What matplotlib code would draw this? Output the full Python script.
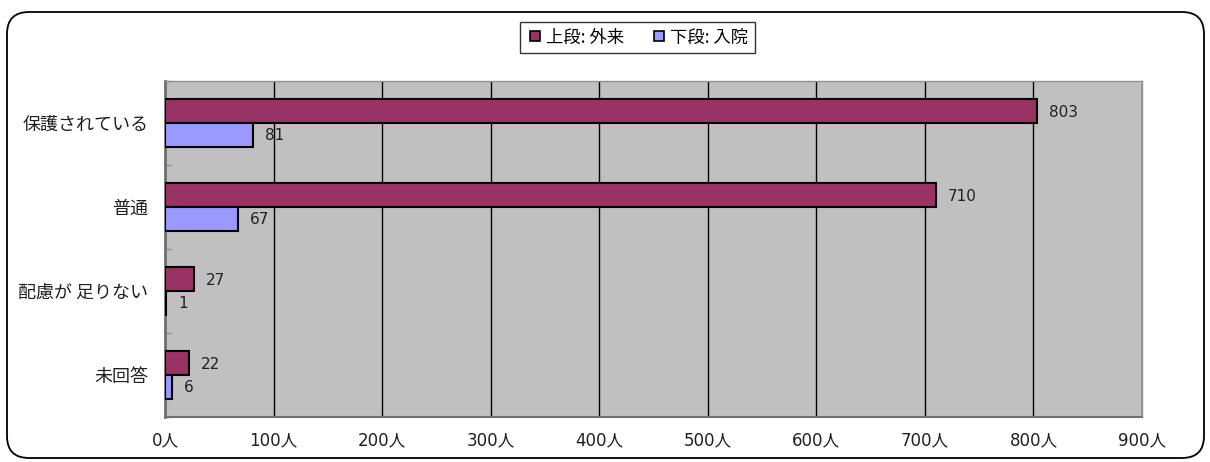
import matplotlib
matplotlib.use("Agg")
import matplotlib.pyplot as plt
from matplotlib.patches import FancyBboxPatch
from matplotlib.lines import Line2D
import numpy as np

CJK = ['Noto Sans CJK JP', 'DejaVu Sans']
NUM = ['DejaVu Sans', 'Noto Sans CJK JP']
plt.rcParams['font.family'] = CJK

# 回答カテゴリと人数
categories = ['保護されている', '普通', '配慮が 足りない', '未回答']
outpatient = [803, 710, 27, 22]   # 上段: 外来
inpatient = [81, 67, 1, 6]        # 下段: 入院
series_names = ['上段: 外来', '下段: 入院']
x_ticks = [0, 100, 200, 300, 400, 500, 600, 700, 800, 900]
x_tick_labels = [f'{v}人' for v in x_ticks]

W, H = 1210, 462
DPI = 100
fig = plt.figure(figsize=(W / DPI, H / DPI), dpi=DPI)

# 角丸の外枠 (インチ単位で配置)
frame = FancyBboxPatch((7 / DPI, 4 / DPI), 1197 / DPI, 446 / DPI,
                       boxstyle="round,pad=0,rounding_size=0.22",
                       transform=fig.dpi_scale_trans, facecolor='none',
                       edgecolor='black', linewidth=1.3, zorder=-1)
fig.patches.append(frame)

left, right, top, bottom = 165, 1142, 81, 417
ax = fig.add_axes([left / W, (H - bottom) / H, (right - left) / W, (bottom - top) / H])
ax.set_facecolor('#C0C0C0')

y = np.arange(len(categories))
h = 0.2857
c_out = '#993366'
c_in = '#9999FF'
b1 = ax.barh(y - h / 2, outpatient, height=h, color=c_out, edgecolor='black', linewidth=1.5, zorder=3)
b2 = ax.barh(y + h / 2, inpatient, height=h, color=c_in, edgecolor='black', linewidth=1.5, zorder=3)

for bars, vals in ((b1, outpatient), (b2, inpatient)):
    for bar, v in zip(bars, vals):
        ax.annotate(str(v), (v, bar.get_y() + bar.get_height() / 2),
                    xytext=(12, -1), textcoords='offset pixels',
                    ha='left', va='center', fontsize=11, family=NUM,
                    color='#202020', zorder=4)

ax.set_xlim(0, 900)
ax.set_ylim(len(categories) - 0.5, -0.5)
ax.set_xticks(x_ticks)
ax.set_xticklabels(x_tick_labels, fontsize=12, color='#202020', family=NUM)
ax.tick_params(axis='x', length=0, pad=10)
ax.xaxis.grid(True, color='black', linewidth=1.0, zorder=1)
ax.set_axisbelow(True)

ax.set_yticks(y)
ax.set_yticklabels(categories, fontsize=13, color='#202020')
ax.tick_params(axis='y', which='major', length=0, pad=12)
ax.set_yticks(np.arange(len(categories) + 1) - 0.5, minor=True)
ax.tick_params(axis='y', which='minor', direction='in', length=4, color='#909090', width=1)

for side in ('top', 'right'):
    ax.spines[side].set_color('#909090')
    ax.spines[side].set_linewidth(1.0)
ax.spines['left'].set_color('#707070')
ax.spines['left'].set_linewidth(2.0)
ax.spines['bottom'].set_color('#707070')
ax.spines['bottom'].set_linewidth(1.5)

handles = [Line2D([], [], marker='s', linestyle='none', markersize=7,
                  markerfacecolor=c, markeredgecolor='black', markeredgewidth=1.2)
           for c in (c_out, c_in)]
leg = fig.legend(handles, series_names, loc='center', bbox_to_anchor=(637.5 / W, 1 - 37.5 / H),
                 ncol=2, frameon=True, fancybox=False, fontsize=12.5, handletextpad=0.15,
                 columnspacing=1.5, borderpad=0.35, handlelength=1.0, borderaxespad=0)
leg.get_frame().set_edgecolor('black')
leg.get_frame().set_linewidth(1.0)

fig.savefig('out.png', dpi=DPI)
